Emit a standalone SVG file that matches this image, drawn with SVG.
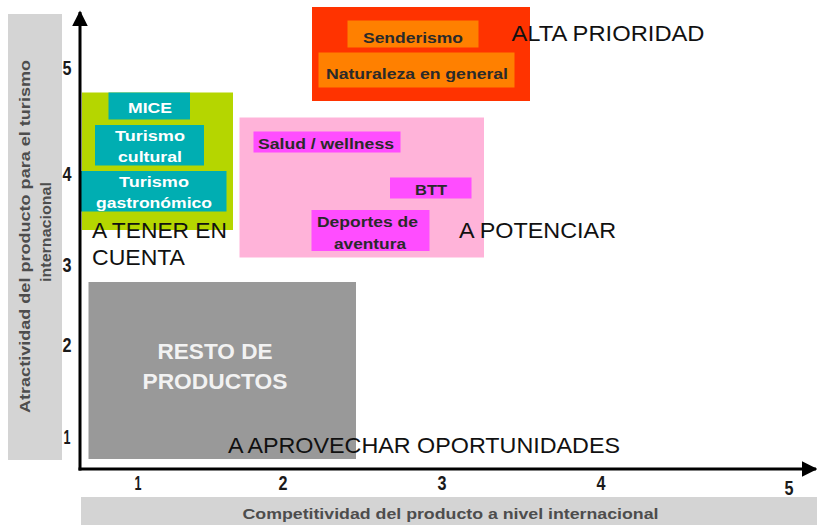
<svg xmlns="http://www.w3.org/2000/svg" width="817" height="525" viewBox="0 0 817 525">
<style>
.ax{font-family:"Liberation Sans",Arial,sans-serif;font-weight:bold;fill:#4d4d4d;font-size:14px}
.tick{font-family:"Liberation Sans",Arial,sans-serif;font-size:19.5px;font-weight:bold;fill:#1a1a1a;text-anchor:middle}
.cat{font-family:"Liberation Sans",Arial,sans-serif;font-size:22px;fill:#111}
.wt{font-family:"Liberation Sans",Arial,sans-serif;font-weight:bold;font-size:14px;fill:#fff;text-anchor:middle}
.dk{font-family:"Liberation Sans",Arial,sans-serif;font-weight:bold;font-size:14px;fill:#2a2a2a;text-anchor:middle}
.teal{fill:#00aeb2}
.mag{fill:#ff4dff}
.org{fill:#ff8000}
</style>
<defs>
<marker id="arr" viewBox="0 0 10 10" refX="9" refY="5" markerWidth="5.3" markerHeight="5.3" orient="auto" markerUnits="strokeWidth">
<path d="M0,0 L10,5 L0,10 z" fill="#000"/>
</marker>
</defs>
<rect width="817" height="525" fill="#fff"/>

<g id="yaxis-label">
<rect x="8" y="14" width="54" height="446" fill="#d4d4d4"/>
<text class="ax" transform="translate(30,236.5) rotate(-90)" text-anchor="middle" textLength="353" lengthAdjust="spacingAndGlyphs">Atractividad del producto para el turismo</text>
<text class="ax" transform="translate(51,232) rotate(-90)" text-anchor="middle" textLength="100" lengthAdjust="spacingAndGlyphs">internacional</text>
</g>
<g id="xaxis-label">
<rect x="81" y="497" width="736" height="28" fill="#d4d4d4"/>
<text class="ax" x="450.5" y="518.5" text-anchor="middle" textLength="416" lengthAdjust="spacingAndGlyphs">Competitividad del producto a nivel internacional</text>
</g>

<g id="alta-prioridad">
<rect x="312" y="7" width="218" height="94" fill="#ff3300"/>
<text class="cat" x="511.5" y="41" textLength="193" lengthAdjust="spacingAndGlyphs">ALTA PRIORIDAD</text>
</g>
<g id="a-tener-en-cuenta">
<rect x="82" y="92.5" width="151" height="137.5" fill="#b5d600"/>
</g>
<g id="a-potenciar">
<rect x="239.5" y="117.5" width="244.5" height="140" fill="#ffb3d9"/>
<text class="cat" x="459" y="237.5" textLength="157" lengthAdjust="spacingAndGlyphs">A POTENCIAR</text>
</g>
<g id="resto-de-productos">
<rect x="88.5" y="282" width="267.5" height="177" fill="#999999"/>
<text class="cat" x="215" y="358.5" text-anchor="middle" style="fill:#f2f2f2;font-weight:bold" textLength="115" lengthAdjust="spacingAndGlyphs">RESTO DE</text>
<text class="cat" x="215" y="388.5" text-anchor="middle" style="fill:#f2f2f2;font-weight:bold" textLength="145" lengthAdjust="spacingAndGlyphs">PRODUCTOS</text>
</g>

<g id="senderismo">
<rect class="org" x="347.5" y="20.5" width="131" height="27"/>
<text class="dk" x="413" y="42.5" textLength="100" lengthAdjust="spacingAndGlyphs">Senderismo</text>
</g>
<g id="naturaleza">
<rect class="org" x="318.5" y="52.5" width="196" height="35"/>
<text class="dk" x="417" y="78.5" textLength="182" lengthAdjust="spacingAndGlyphs">Naturaleza en general</text>
</g>
<g id="mice">
<rect class="teal" x="108.5" y="92.5" width="81.5" height="27"/>
<text class="wt" x="150" y="112.5" textLength="44" lengthAdjust="spacingAndGlyphs">MICE</text>
</g>
<g id="turismo-cultural">
<rect class="teal" x="95" y="125" width="109" height="40.5"/>
<text class="wt" x="150" y="140.5" textLength="70" lengthAdjust="spacingAndGlyphs">Turismo</text>
<text class="wt" x="150" y="162" textLength="64" lengthAdjust="spacingAndGlyphs">cultural</text>
</g>
<g id="turismo-gastronomico">
<rect class="teal" x="81" y="171" width="145.5" height="40.5"/>
<text class="wt" x="154" y="186.5" textLength="70" lengthAdjust="spacingAndGlyphs">Turismo</text>
<text class="wt" x="154" y="208" textLength="116" lengthAdjust="spacingAndGlyphs">gastronómico</text>
</g>
<g id="salud">
<rect class="mag" x="253.5" y="131.5" width="147" height="21"/>
<text class="dk" x="326" y="148.5" textLength="136" lengthAdjust="spacingAndGlyphs">Salud / wellness</text>
</g>
<g id="btt">
<rect class="mag" x="390" y="177.5" width="81.5" height="21"/>
<text class="dk" x="431" y="194.5" textLength="32" lengthAdjust="spacingAndGlyphs">BTT</text>
</g>
<g id="deportes">
<rect class="mag" x="311.5" y="210" width="118" height="41"/>
<text class="dk" x="367.5" y="226.5" textLength="101" lengthAdjust="spacingAndGlyphs">Deportes de</text>
<text class="dk" x="370" y="248.5" textLength="72" lengthAdjust="spacingAndGlyphs">aventura</text>
</g>

<g id="quadrant-labels">
<text class="cat" x="92" y="238" textLength="135" lengthAdjust="spacingAndGlyphs">A TENER EN</text>
<text class="cat" x="92" y="265" textLength="93" lengthAdjust="spacingAndGlyphs">CUENTA</text>
<text class="cat" x="228" y="452.5" textLength="392" lengthAdjust="spacingAndGlyphs">A APROVECHAR OPORTUNIDADES</text>
</g>

<g id="connectors" fill="none" stroke="#000" stroke-width="3">
<line x1="80" y1="470.5" x2="80" y2="12" marker-end="url(#arr)"/>
<line x1="78.5" y1="469" x2="816" y2="469" marker-end="url(#arr)"/>
</g>

<g id="ticks">
<text class="tick" x="67" y="75" textLength="9" lengthAdjust="spacingAndGlyphs">5</text>
<text class="tick" x="67" y="181" textLength="9" lengthAdjust="spacingAndGlyphs">4</text>
<text class="tick" x="67" y="272" textLength="9" lengthAdjust="spacingAndGlyphs">3</text>
<text class="tick" x="67" y="352" textLength="9" lengthAdjust="spacingAndGlyphs">2</text>
<text class="tick" x="67" y="444" textLength="7" lengthAdjust="spacingAndGlyphs">1</text>
<text class="tick" x="138" y="490" textLength="7" lengthAdjust="spacingAndGlyphs">1</text>
<text class="tick" x="283" y="490" textLength="9" lengthAdjust="spacingAndGlyphs">2</text>
<text class="tick" x="442" y="490" textLength="9" lengthAdjust="spacingAndGlyphs">3</text>
<text class="tick" x="601" y="490" textLength="9" lengthAdjust="spacingAndGlyphs">4</text>
<text class="tick" x="789" y="495" textLength="9" lengthAdjust="spacingAndGlyphs">5</text>
</g>
</svg>
